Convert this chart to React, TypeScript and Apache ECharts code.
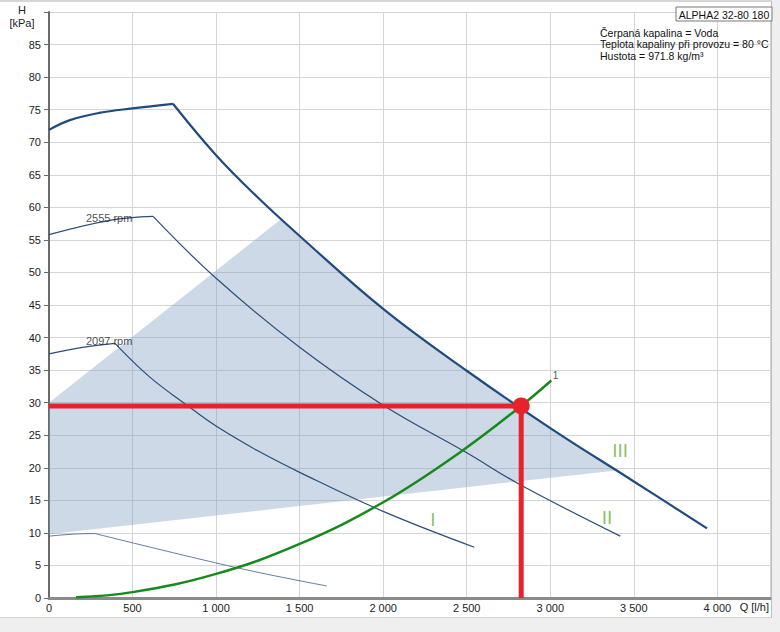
import React, { useEffect, useRef } from "react";
import * as echarts from "echarts";

// Pump curves: [Q l/h, H kPa]
const maxCurveRise = [[0, 71.9], [125, 73.4], [300, 74.5], [500, 75.2], [742, 75.9]];
const maxCurveFall = [[742, 75.9], [1000, 68.0], [1250, 61.5], [1500, 55.6], [2000, 44.4], [2500, 34.9], [3000, 26.1], [3500, 17.9], [3938, 10.7]];
const curve2555Rise = [[0, 55.8], [365, 58.0], [623, 58.6]];
const curve2555Fall = [[623, 58.6], [1000, 49.1], [1500, 38.5], [2000, 29.6], [2500, 22.3], [2820, 17.4], [3419, 9.5]];
const curve2097Rise = [[0, 37.5], [200, 38.5], [395, 39.1]];
const curve2097Fall = [[395, 39.1], [600, 34.0], [826, 29.6], [1000, 26.4], [1250, 22.6], [1500, 19.3], [2000, 13.3], [2545, 7.8]];
const minCurveRise = [[0, 9.5], [140, 9.8], [275, 9.9]];
const minCurveFall = [[275, 9.9], [1133, 4.6], [1662, 1.85]];
const systemCurve = [[162, 0.1], [500, 0.9], [1000, 3.7], [1500, 8.3], [2000, 14.7], [2461, 22.4], [2826, 29.5], [3006, 33.4]];
const dutyPoint = [2826, 29.5];
const shadedArea = [[0, 30.0], [1390, 58.2], [1500, 55.6], [2000, 44.4], [2500, 34.9], [3000, 26.1], [3395, 19.6], [0, 9.8]];

const curveLabels = [[2298, 12.0, "I"], [3340, 12.3, "II"], [3418, 22.6, "III"]];
const rpmLabels = [[221, 58.3, "2555 rpm"], [221, 39.5, "2097 rpm"]];
const systemLabel = [[3015, 34.1, "1"]];

const infoTitle = "ALPHA2 32-80 180";
const infoLines = ["Čerpaná kapalina = Voda", "Teplota kapaliny při provozu = 80 °C", "Hustota = 971.8 kg/m³"];

const FONT = '"Liberation Sans", Arial, sans-serif';
const X_MAX = 4315;
const Y_MAX = 90;

function fmtThousands(v: number): string {
  const s = String(Math.round(v));
  return s.replace(/\B(?=(\d{3})+(?!\d))/g, " ");
}

export default function App() {
  const ref = useRef<HTMLDivElement>(null);

  useEffect(() => {
    if (!ref.current) return;
    const chart = echarts.init(ref.current, undefined, { renderer: "svg" });

    const blue = "#1f4b7f";
    const thinBlue = "#2b4d77";
    const line = (data: number[][], width: number, color: string, z = 3) => ({
      type: "line",
      data,
      smooth: 0.4,
      symbol: "none",
      silent: true,
      z,
      lineStyle: { width, color },
    });

    const option: any = {
      animation: false,
      backgroundColor: "transparent",
      textStyle: { fontFamily: FONT },
      grid: { left: 49, right: 10, top: 12, bottom: 34, containLabel: false },
      xAxis: {
        type: "value",
        min: 0,
        max: X_MAX,
        interval: 500,
        name: "Q [l/h]",
        nameLocation: "end",
        nameGap: -1,
        nameTextStyle: { fontSize: 11, color: "#222", align: "right", verticalAlign: "top", lineHeight: 12, padding: [3, 0, 0, 0], fontFamily: FONT },
        axisLine: { show: true, lineStyle: { color: "#8a8a8a", width: 3 } },
        axisTick: { show: false },
        axisLabel: {
          fontSize: 11,
          color: "#222",
          margin: 4,
          fontFamily: FONT,
          formatter: (v: number) => (v % 500 === 0 ? fmtThousands(v) : ""),
        },
        splitLine: { show: true, lineStyle: { color: "#d4d4d4", width: 1 } },
      },
      yAxis: {
        type: "value",
        min: 0,
        max: Y_MAX,
        interval: 5,
        name: "H\n[kPa]",
        nameLocation: "end",
        nameGap: -17,
        nameTextStyle: { fontSize: 11, color: "#222", align: "center", verticalAlign: "bottom", lineHeight: 13, padding: [0, 54, 0, 0], fontFamily: FONT },
        axisLine: { show: true, lineStyle: { color: "#6a6a6a", width: 2 } },
        axisTick: { show: true, length: 5, lineStyle: { color: "#6a6a6a" } },
        axisLabel: {
          fontSize: 11,
          color: "#222",
          margin: 8,
          fontFamily: FONT,
          formatter: (v: number) => (v >= Y_MAX ? "" : String(v)),
        },
        splitLine: { show: true, lineStyle: { color: "#d4d4d4", width: 1 } },
      },
      graphic: [
        {
          type: "rect",
          shape: { x: 676, y: 7, width: 96, height: 14 },
          style: { fill: "#fff", stroke: "#777", lineWidth: 1 },
          z: 100,
        },
        {
          type: "text",
          x: 724,
          y: 14.5,
          z: 101,
          style: { text: infoTitle, fontSize: 10.5, fontFamily: FONT, fill: "#111", textAlign: "center", textVerticalAlign: "middle", align: "center", verticalAlign: "middle" },
        },
        ...infoLines.map((t, i) => ({
          type: "text",
          x: 600,
          y: 32.7 + i * 11.7,
          z: 101,
          style: { text: t, fontSize: 10.5, fontFamily: FONT, fill: "#111", textAlign: "left", textVerticalAlign: "middle", align: "left", verticalAlign: "middle" },
        })),
      ],
      series: [
        {
          type: "custom",
          silent: true,
          z: 1,
          data: [0],
          renderItem: (_params: any, api: any) => {
            const pts = shadedArea.map((p) => api.coord(p));
            return { type: "polygon", shape: { points: pts }, style: { fill: "rgba(130,160,195,0.40)" } };
          },
        },
        line(maxCurveRise, 2.2, blue),
        line(maxCurveFall, 2.2, blue),
        line(curve2555Rise, 1.2, thinBlue),
        line(curve2555Fall, 1.2, thinBlue),
        line(curve2097Rise, 1.2, thinBlue),
        line(curve2097Fall, 1.2, thinBlue),
        line(minCurveRise, 0.8, "#3d5c88"),
        line(minCurveFall, 0.8, "#3d5c88"),
        line(systemCurve, 2.5, "#168a1a", 4),
        {
          type: "line",
          data: [[0, dutyPoint[1]], dutyPoint],
          symbol: "none",
          silent: true,
          z: 6,
          lineStyle: { width: 5, color: "#e8222b" },
        },
        {
          type: "line",
          data: [[dutyPoint[0], 0], dutyPoint],
          symbol: "none",
          silent: true,
          z: 6,
          lineStyle: { width: 5, color: "#e8222b" },
        },
        {
          type: "scatter",
          data: [dutyPoint],
          symbol: "circle",
          symbolSize: 17,
          silent: true,
          z: 7,
          itemStyle: { color: "#e8222b", opacity: 1 },
        },
        {
          type: "scatter",
          data: curveLabels,
          symbolSize: 0,
          silent: true,
          z: 8,
          label: { show: true, position: "inside", formatter: (p: any) => p.data[2], fontSize: 19, color: "#6ab23a", fontFamily: FONT },
        },
        {
          type: "scatter",
          data: rpmLabels,
          symbolSize: 0,
          silent: true,
          z: 8,
          label: { show: true, position: "right", distance: 0, formatter: (p: any) => p.data[2], fontSize: 11, color: "#222", fontFamily: FONT },
        },
        {
          type: "scatter",
          data: systemLabel,
          symbolSize: 0,
          silent: true,
          z: 8,
          label: { show: true, position: "right", distance: 0, formatter: (p: any) => p.data[2], fontSize: 10, color: "#222", fontFamily: FONT },
        },
      ],
    };

    chart.setOption(option);
    return () => chart.dispose();
  }, []);

  return (
    <div style={{ position: "fixed", left: 0, top: 0, width: 780, height: 632, background: "#efefef", overflow: "hidden" }}>
      <div
        style={{
          position: "absolute",
          left: 0,
          top: 0,
          width: 772,
          height: 618,
          background: "#ffffff",
          borderTop: "2px solid #d6d6d6",
          borderRight: "1px solid #bdbdbd",
          borderBottom: "1px solid #d0d0d0",
          boxSizing: "border-box",
        }}
      />
      <div ref={ref} style={{ position: "absolute", left: 0, top: 0, width: 780, height: 632 }} />
    </div>
  );
}
